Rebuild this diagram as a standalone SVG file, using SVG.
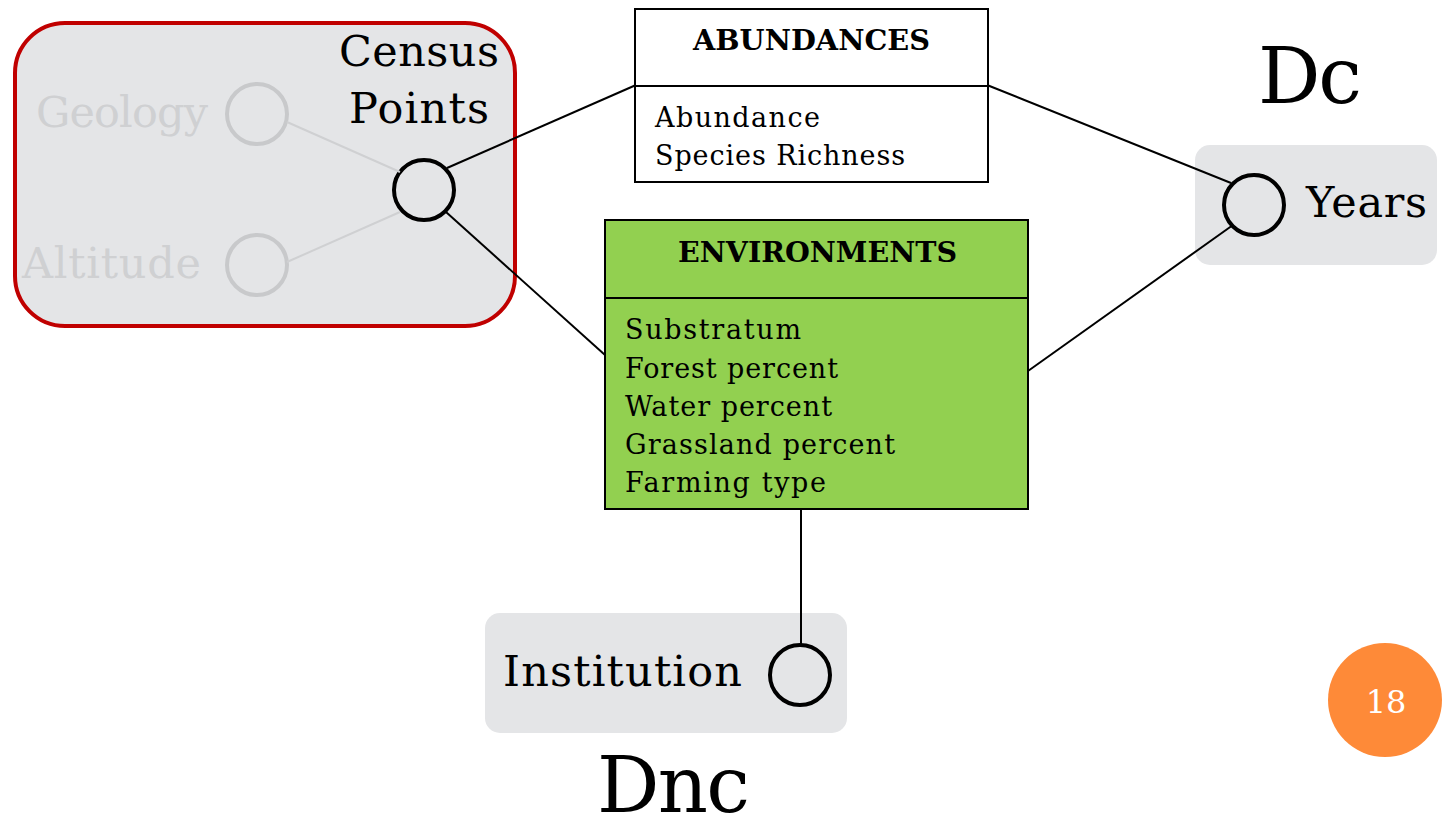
<svg xmlns="http://www.w3.org/2000/svg" width="1443" height="831" viewBox="0 0 1443 831">
  <style>
    text { font-family: "DejaVu Serif", "Liberation Serif", serif; fill: #000; }
    .big { font-size: 43px; }
    .huge { font-size: 78px; }
    .title { font-size: 28px; font-weight: bold; }
    .attr { font-size: 27px; }
    .faint { fill: #cfd0d2; }
    .dim { fill: #e4e5e7; }
    .ring { fill: none; stroke: #000; stroke-width: 4; }
    .ring-faint { fill: none; stroke: #c8c9cb; stroke-width: 4; }
    .link { stroke: #000; stroke-width: 2; fill: none; }
    .link-faint { stroke: #cfd0d2; stroke-width: 2; fill: none; }
    .box { stroke: #000; stroke-width: 2; }
  </style>

  <!-- hierarchy grouping for census points -->
  <g id="census-group">
    <rect x="15" y="23" width="500" height="303" rx="50" class="dim" stroke="#c00000" stroke-width="4"/>
  </g>

  <g id="geology">
    <text x="208" y="127" class="big faint" text-anchor="end" textLength="172">Geology</text>
    <circle cx="257" cy="114" r="30" class="ring-faint"/>
  </g>

  <g id="altitude">
    <text x="22" y="278" class="big faint" textLength="179">Altitude</text>
    <circle cx="257" cy="265" r="30" class="ring-faint"/>
  </g>

  <g id="census-points">
    <text x="419" y="66" class="big" text-anchor="middle" textLength="160">Census</text>
    <text x="419" y="123" class="big" text-anchor="middle" textLength="140">Points</text>
    <circle cx="424" cy="190" r="30" class="ring"/>
  </g>

  <g id="abundances">
    <rect x="635" y="9" width="353" height="173" fill="#fff" class="box"/>
    <line x1="635" y1="86" x2="988" y2="86" class="box"/>
    <text x="693" y="50" class="title" textLength="237" lengthAdjust="spacingAndGlyphs">ABUNDANCES</text>
    <text x="655" y="127" class="attr" textLength="165">Abundance</text>
    <text x="655" y="165" class="attr" textLength="250">Species Richness</text>
  </g>

  <g id="environments">
    <rect x="605" y="220" width="423" height="289" fill="#92d050" class="box"/>
    <line x1="605" y1="298" x2="1028" y2="298" class="box"/>
    <text x="678" y="262" class="title" textLength="279" lengthAdjust="spacingAndGlyphs">ENVIRONMENTS</text>
    <text x="625" y="339" class="attr" textLength="176">Substratum</text>
    <text x="625" y="378" class="attr" textLength="213">Forest percent</text>
    <text x="625" y="416" class="attr" textLength="207">Water percent</text>
    <text x="625" y="454" class="attr" textLength="270">Grassland percent</text>
    <text x="625" y="492" class="attr" textLength="201">Farming type</text>
  </g>

  <g id="years">
    <rect x="1195" y="145" width="242" height="120" rx="15" class="dim"/>
    <circle cx="1254" cy="205" r="30" class="ring"/>
    <text x="1306" y="217" class="big" textLength="121">Years</text>
  </g>

  <g id="dc-label">
    <text x="1258" y="103" class="huge" textLength="104">Dc</text>
  </g>

  <g id="institution">
    <rect x="485" y="613" width="362" height="120" rx="15" class="dim"/>
    <circle cx="800" cy="675" r="30" class="ring"/>
    <text x="503" y="686" class="big" textLength="239">Institution</text>
  </g>

  <g id="dnc-label">
    <text x="597" y="812" class="huge" textLength="153">Dnc</text>
  </g>

  <!-- connectors drawn above the shaded backgrounds -->
  <g id="connectors">
    <line class="link-faint" x1="287" y1="122" x2="400" y2="172"/>
    <line class="link-faint" x1="287" y1="262" x2="400" y2="212"/>
    <line class="link" x1="447" y1="168" x2="636" y2="85"/>
    <line class="link" x1="446" y1="212" x2="605" y2="355"/>
    <line class="link" x1="987" y1="85" x2="1231" y2="183"/>
    <line class="link" x1="1028" y1="371" x2="1233" y2="225"/>
    <line class="link" x1="801" y1="509" x2="801" y2="645"/>
  </g>

  <g id="page-number">
    <circle cx="1385" cy="700" r="57" fill="#fe8a38"/>
    <text x="1386" y="713" font-size="32" text-anchor="middle" style="fill:#fff">18</text>
  </g>
</svg>
